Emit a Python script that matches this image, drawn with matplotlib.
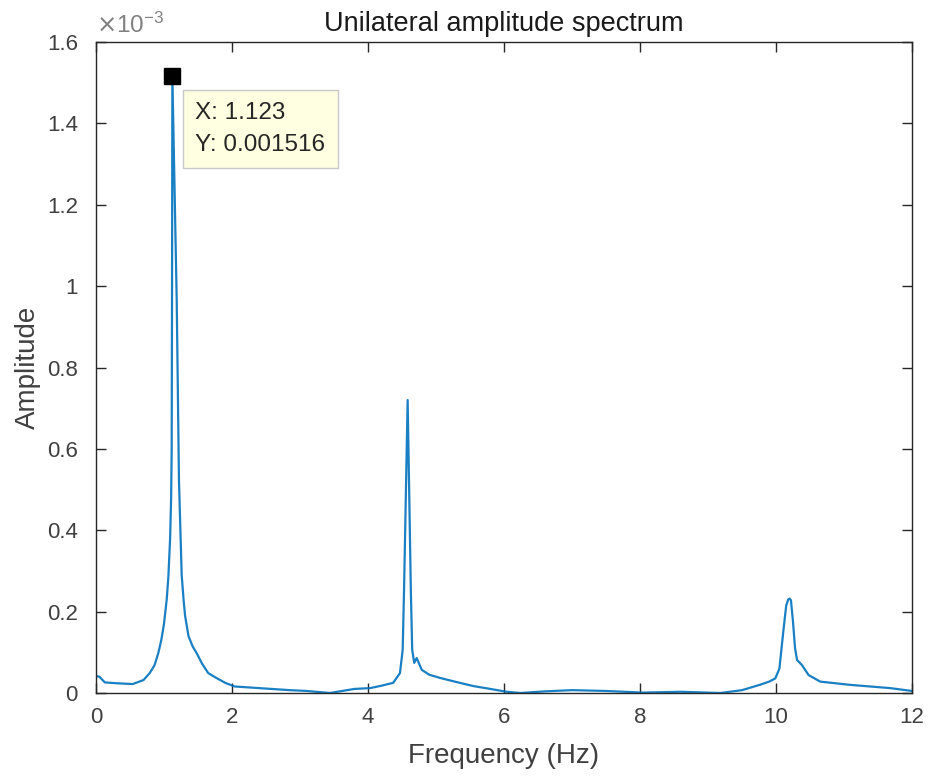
import numpy as np
import matplotlib
matplotlib.use("Agg")
import matplotlib.pyplot as plt
from matplotlib.ticker import FuncFormatter

plt.rcParams['font.family'] = ['Liberation Sans', 'DejaVu Sans']

# ---- data (amplitude in units of 1e-3) ----
frequency_hz = [0.00, 0.05, 0.13, 0.30, 0.54, 0.70, 0.79, 0.86, 0.916, 0.96, 1.00, 1.04, 1.064,
                1.09, 1.105, 1.113, 1.118, 1.123, 1.187, 1.22, 1.26, 1.29, 1.31, 1.36, 1.42, 1.48,
                1.56, 1.65, 1.77, 1.90, 2.04, 2.40, 2.85, 3.10, 3.44, 3.80, 4.03, 4.20, 4.37,
                4.47, 4.51, 4.53, 4.583, 4.63, 4.65, 4.68, 4.716, 4.79, 4.90, 5.06,
                5.30, 5.55, 5.80, 6.04, 6.24, 6.60, 7.00, 7.50, 8.04, 8.60, 9.18,
                9.50, 9.76, 9.90, 9.99, 10.05, 10.11, 10.15, 10.18, 10.20, 10.22, 10.25, 10.28, 10.31,
                10.38, 10.48, 10.65, 11.09, 11.68, 12.00]
amplitude_1e3 = [0.042, 0.040, 0.026, 0.024, 0.022, 0.032, 0.049, 0.068, 0.098, 0.13, 0.17, 0.23, 0.285,
                 0.38, 0.48, 0.60, 0.97, 1.516, 0.966, 0.523, 0.290, 0.225, 0.19, 0.14, 0.115, 0.098,
                 0.072, 0.049, 0.037, 0.025, 0.016, 0.012, 0.007, 0.005, 0.000, 0.010, 0.012, 0.018, 0.025,
                 0.049, 0.106, 0.253, 0.72, 0.253, 0.106, 0.074, 0.086, 0.057, 0.045, 0.037,
                 0.027, 0.017, 0.010, 0.003, 0.000, 0.004, 0.007, 0.005, 0.001, 0.003, 0.000,
                 0.007, 0.020, 0.028, 0.036, 0.060, 0.155, 0.215, 0.230, 0.232, 0.228, 0.175, 0.110, 0.081,
                 0.069, 0.044, 0.028, 0.020, 0.012, 0.005]
peak_freq = 1.123
peak_amp = 0.001516
x_ticks = [0, 2, 4, 6, 8, 10, 12]
y_ticks_1e3 = [0, 0.2, 0.4, 0.6, 0.8, 1.0, 1.2, 1.4, 1.6]

freq = np.array(frequency_hz)
amp = np.array(amplitude_1e3) * 1e-3

fig = plt.figure(figsize=(9.40, 7.78), dpi=100)
ax = fig.add_axes([96/940, 85/778, 816/940, 651/778])

ax.plot(freq, amp, color='#0072BD', lw=1.6, solid_joinstyle='round', alpha=0.9)
ax.plot([peak_freq], [peak_amp], marker='s', ms=11, color='black', mec='black', zorder=5,
        clip_on=False)

ax.set_xlim(0, 12)
ax.set_ylim(0, 1.6e-3)
ax.set_xticks(x_ticks)
ax.set_yticks(np.array(y_ticks_1e3) * 1e-3)
ax.yaxis.set_major_formatter(FuncFormatter(lambda v, p: '%g' % round(v * 1e3, 3)))

axcol = '#262626'
lblcol = '#404040'
for s in ax.spines.values():
    s.set_color(axcol)
    s.set_linewidth(1.0)
ax.tick_params(direction='in', length=7, width=1.0, color=axcol, labelcolor=lblcol,
               labelsize=16, top=True, right=True, pad=10)
ax.tick_params(axis='y', pad=13)

ax.set_xlabel('Frequency (Hz)', fontsize=20, color=lblcol, labelpad=11)
ax.set_ylabel('Amplitude', fontsize=20, color=lblcol, labelpad=4)
ax.set_title('Unilateral amplitude spectrum', fontsize=19.5, color='#1a1a1a', pad=8)

ax.text(0.0, 1.006, r'$\times\mathregular{10^{-3}}$', transform=ax.transAxes,
        fontsize=17.5, color='#808080', ha='left', va='bottom')

ax.annotate('X: 1.123\nY: 0.001516', xy=(peak_freq, peak_amp),
            xytext=(23, -26), textcoords='offset pixels', ha='left', va='top',
            fontsize=17.5, color='#262626', linespacing=1.55, zorder=6,
            bbox=dict(boxstyle='square,pad=0.5', fc='#FFFFE1', ec='#C8C8C8', lw=1.0))

fig.savefig('out.png', dpi=100)
